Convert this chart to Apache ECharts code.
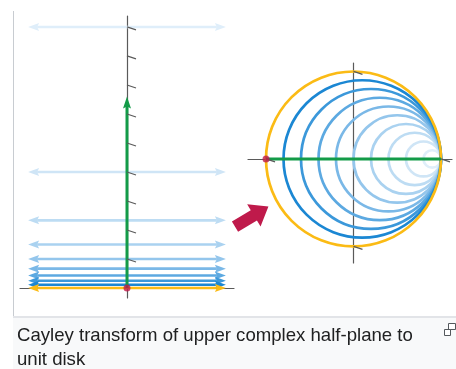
<!DOCTYPE html>
<html><head><meta charset="utf-8">
<script src="https://cdn.jsdelivr.net/npm/echarts@6/dist/echarts.min.js"></script>
<style>html,body{margin:0;padding:0;background:#fff}#c{width:456px;height:369px}</style>
</head><body><div id="c"></div>
<script>
// Upper half-plane: horizontal lines Im z = c, drawn as double arrows
const halfPlaneIm = [9, 4, 2.333, 1.5, 1, 0.667, 0.429, 0.25, 0.111, 0];
const halfPlaneRe = [-3.41, 3.41];
// Unit disk: radii of the image circles (all tangent at w = 1)
const diskRadii = [0.1, 0.2, 0.3, 0.4, 0.5, 0.6, 0.7, 0.8, 0.9, 1.0];
const levelColors = ['#dfeefa', '#cfe5f6', '#bddcf3', '#aad2f0', '#94c6ec',
                     '#7ab8e7', '#5ca9e1', '#3b98da', '#1b87d3', '#fbbb15'];
const imAxisTicks = [1, 2, 3, 4, 5, 6, 7, 8, 9];
const diskTicks = [[0, 1], [0, -1], [1, 0], [-1, 0]];
const imAxisArrow = [0, 6.6];      // positive imaginary axis (green)
const diskDiameter = [-1, 1];      // its image in the disk
const originPoint = [[0, 0]];
const diskPoint = [[-1, 0]];
const captionLines = ['Cayley transform of upper complex half-plane to', 'unit disk'];

const GREEN = '#139b48', CRIMSON = '#bf1a4b', AXIS = '#5a5a5a';

function axis(gridIndex, min, max) {
  return {type: 'value', gridIndex, min, max,
    axisLine: {show: true, onZero: true, lineStyle: {color: AXIS, width: 1.2}},
    axisTick: {show: false}, axisLabel: {show: false}, splitLine: {show: false}};
}

function renderHLine(params, api) {
  const y = api.value(2);
  const p1 = api.coord([api.value(0), y]);
  const p2 = api.coord([api.value(1), y]);
  const col = levelColors[api.value(3)];
  const L = 11, W = 4, N = 9;
  return {type: 'group', children: [
    {type: 'line', shape: {x1: p1[0] + N, y1: p1[1], x2: p2[0] - N, y2: p2[1]}, style: {stroke: col, lineWidth: 2.6}},
    {type: 'polygon', shape: {points: [[p1[0], p1[1]], [p1[0] + L, p1[1] - W], [p1[0] + N, p1[1]], [p1[0] + L, p1[1] + W]]}, style: {fill: col}},
    {type: 'polygon', shape: {points: [[p2[0], p2[1]], [p2[0] - L, p2[1] - W], [p2[0] - N, p2[1]], [p2[0] - L, p2[1] + W]]}, style: {fill: col}}
  ]};
}

function renderCircle(params, api) {
  const r = api.value(0);
  const c = api.coord([1 - r, 0]);
  const pr = api.size([r, 0])[0];
  return {type: 'circle', shape: {cx: c[0], cy: c[1], r: pr},
    style: {fill: null, stroke: levelColors[api.value(1)], lineWidth: 2.7}};
}

function renderTick(params, api) {
  const p = api.coord([api.value(0), api.value(1)]);
  return {type: 'line', shape: {x1: p[0], y1: p[1], x2: p[0] + 9, y2: p[1] + 3},
    style: {stroke: AXIS, lineWidth: 1.3}};
}

function renderVArrow(params, api) {
  const p1 = api.coord([api.value(0), api.value(1)]);
  const p2 = api.coord([api.value(0), api.value(2)]);
  return {type: 'group', children: [
    {type: 'line', shape: {x1: p1[0], y1: p1[1], x2: p2[0], y2: p2[1] + 9}, style: {stroke: GREEN, lineWidth: 3}},
    {type: 'polygon', shape: {points: [[p2[0], p2[1]], [p2[0] - 4, p2[1] + 12], [p2[0], p2[1] + 10], [p2[0] + 4, p2[1] + 12]]}, style: {fill: GREEN}}
  ]};
}

// big crimson arrow between the panels (decoration)
const arrowPts = [[0, -6], [22, -6], [22, -13], [39, 0], [22, 13], [22, 6], [0, 6]];

const chart = echarts.init(document.getElementById('c'), null, {renderer: 'canvas'});
chart.setOption({
  animation: false,
  backgroundColor: '#fff',
  grid: [
    {left: 20, top: 16, width: 214, height: 282},
    {left: 248, top: 63, width: 204, height: 200}
  ],
  xAxis: [axis(0, -3.69, 3.69), axis(1, -1.206, 1.126)],
  yAxis: [axis(0, -0.345, 9.379), axis(1, -1.189, 1.097)],
  series: [
    {type: 'custom', xAxisIndex: 0, yAxisIndex: 0, z: 2, clip: false,
     renderItem: renderHLine, encode: {x: [0, 1], y: 2},
     data: halfPlaneIm.map((c, i) => [halfPlaneRe[0], halfPlaneRe[1], c, i])},
    {type: 'custom', xAxisIndex: 0, yAxisIndex: 0, z: 3, clip: false,
     renderItem: renderVArrow, encode: {x: 0, y: [1, 2]},
     data: [[0, imAxisArrow[0], imAxisArrow[1]]]},
    {type: 'custom', xAxisIndex: 0, yAxisIndex: 0, z: 4, clip: false,
     renderItem: renderTick, encode: {x: 0, y: 1},
     data: imAxisTicks.map(t => [0, t])},
    {type: 'scatter', xAxisIndex: 0, yAxisIndex: 0, z: 5, symbolSize: 7,
     itemStyle: {color: CRIMSON}, data: originPoint},
    {type: 'custom', xAxisIndex: 1, yAxisIndex: 1, z: 2, clip: false,
     renderItem: renderCircle, encode: {x: 0},
     data: diskRadii.map((r, i) => [r, i])},
    {type: 'line', xAxisIndex: 1, yAxisIndex: 1, z: 3, showSymbol: false, symbol: 'none',
     lineStyle: {color: GREEN, width: 3},
     data: diskDiameter.map(x => [x, 0])},
    {type: 'custom', xAxisIndex: 1, yAxisIndex: 1, z: 4, clip: false,
     renderItem: renderTick, encode: {x: 0, y: 1},
     data: diskTicks},
    {type: 'scatter', xAxisIndex: 1, yAxisIndex: 1, z: 5, symbolSize: 7,
     itemStyle: {color: CRIMSON}, data: diskPoint}
  ],
  graphic: [
    {type: 'rect', left: 13, top: 318, shape: {width: 443, height: 51}, style: {fill: '#f8f9fa'}, z: -1},
    {type: 'line', shape: {x1: 13.5, y1: 11, x2: 13.5, y2: 318}, style: {stroke: '#c8ccd1', lineWidth: 1}},
    {type: 'line', shape: {x1: 13, y1: 317, x2: 456, y2: 317}, style: {stroke: '#e2e4e8', lineWidth: 2}},
    {type: 'polygon', x: 235, y: 226.7, rotation: 31 * Math.PI / 180,
     shape: {points: arrowPts}, style: {fill: CRIMSON}},
    {type: 'text', x: 17, y: 326, style: {text: captionLines[0], font: '18.6px "Liberation Sans", Arial, sans-serif', fill: '#202122'}},
    {type: 'text', x: 17, y: 350, style: {text: captionLines[1], font: '18.6px "Liberation Sans", Arial, sans-serif', fill: '#202122'}},
    {type: 'rect', shape: {x: 448.5, y: 323.5, width: 7, height: 6}, style: {fill: '#fff', stroke: '#54595d', lineWidth: 1}},
    {type: 'rect', shape: {x: 444.5, y: 329.5, width: 6, height: 6}, style: {fill: '#fff', stroke: '#54595d', lineWidth: 1}}
  ]
});
</script></body></html>
